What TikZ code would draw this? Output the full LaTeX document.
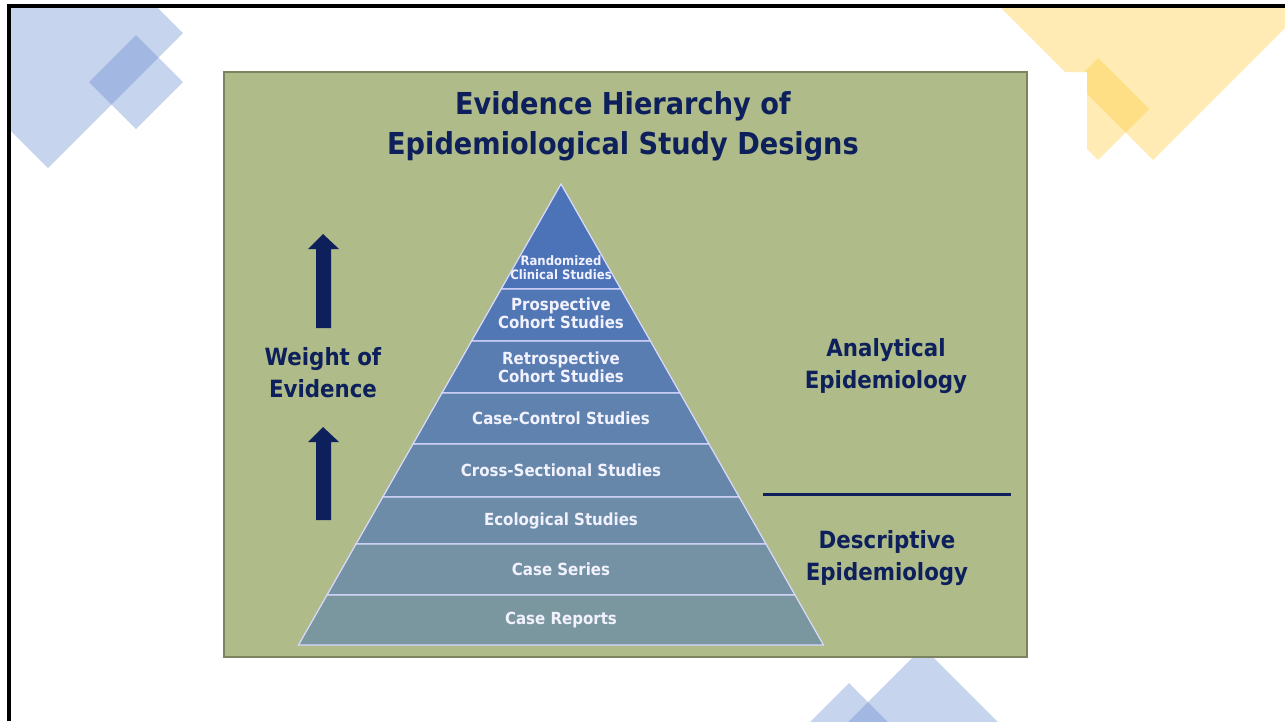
\documentclass[tikz,border=0pt]{standalone}
\usepackage{fontspec}
\setmainfont{DejaVu Sans Condensed}
\usepackage{xcolor}
\definecolor{navy}{HTML}{0D205C}
\definecolor{panelgreen}{HTML}{AFBB88}
\definecolor{blu}{HTML}{5A81CD}
\definecolor{ylw}{HTML}{FFCD41}
\definecolor{pyrtop}{HTML}{4C72B8}
\definecolor{pyrbot}{HTML}{7A97A0}
\colorlet{lay0}{pyrtop}
\colorlet{lay1}{pyrbot!14!pyrtop}
\colorlet{lay2}{pyrbot!28!pyrtop}
\colorlet{lay3}{pyrbot!43!pyrtop}
\colorlet{lay4}{pyrbot!57!pyrtop}
\colorlet{lay5}{pyrbot!71!pyrtop}
\colorlet{lay6}{pyrbot!86!pyrtop}
\colorlet{lay7}{pyrbot}
\tikzset{deco/.style={fill=blu,fill opacity=0.34}}
\tikzset{decoy/.style={fill=ylw,fill opacity=0.4}}
\tikzset{lay/.style={draw=white!85!blue,line width=0.7pt,line join=miter}}
\tikzset{lvl/.style={text=white!95!blue,font=\bfseries\fontsize{9.5}{10.5}\selectfont,align=center,inner sep=0}}
\tikzset{side/.style={text=navy,font=\bfseries\fontsize{13.5}{18.2}\selectfont,align=center,inner sep=0}}

\begin{document}
\begin{tikzpicture}[x=0.02cm,y=-0.02cm]
    \useasboundingbox (0,0) rectangle (1285,721);

    % slide decorations
    \begin{scope}
        \clip (10,7) rectangle (1285,721);
        \fill[deco] (48,-102) -- (183,33) -- (48,168) -- (-87,33) -- cycle;
        \fill[deco] (136,35) -- (183,82) -- (136,129) -- (89,82) -- cycle;
        \fill[deco] (923,647) -- (1043,767) -- (923,887) -- (803,767) -- cycle;
        \fill[deco] (849,683) -- (889,723) -- (849,763) -- (809,723) -- cycle;
    \end{scope}
    \begin{scope}
        \clip (900,7) -- (1285,7) -- (1285,300) -- (1087,300) -- (1087,72) -- (900,72) -- cycle;
        \fill[decoy] (1153,-246) -- (1356,-43) -- (1153,160) -- (947,-46) -- cycle;
        \fill[decoy] (1098,58) -- (1149,109) -- (1098,160) -- (1047,109) -- cycle;
    \end{scope}
    \draw[line width=1.8pt] (9,721) -- (9,6) -- (1285,6);

    % panel
    \filldraw[fill=panelgreen,draw=panelgreen!70!black,line width=0.7pt] (224,72) rectangle (1027,657);
    \node[text=navy,font=\bfseries\fontsize{17.2}{22.8}\selectfont,align=center,inner sep=0] (ttl) at (623,126)
        {Evidence Hierarchy of\\Epidemiological Study Designs};

    % pyramid
    \filldraw[lay,fill=lay0] (561,184) -- (620.8,289) -- (501.2,289) -- cycle;
    \filldraw[lay,fill=lay1] (501.2,289) -- (620.8,289) -- (650.4,341) -- (471.6,341) -- cycle;
    \filldraw[lay,fill=lay2] (471.6,341) -- (650.4,341) -- (680.0,393) -- (442.0,393) -- cycle;
    \filldraw[lay,fill=lay3] (442.0,393) -- (680.0,393) -- (709.0,444) -- (413.0,444) -- cycle;
    \filldraw[lay,fill=lay4] (413.0,444) -- (709.0,444) -- (739.2,497) -- (382.8,497) -- cycle;
    \filldraw[lay,fill=lay5] (382.8,497) -- (739.2,497) -- (766.0,544) -- (356.0,544) -- cycle;
    \filldraw[lay,fill=lay6] (356.0,544) -- (766.0,544) -- (795.0,595) -- (327.0,595) -- cycle;
    \filldraw[lay,fill=lay7] (327.0,595) -- (795.0,595) -- (823.5,645) -- (298.5,645) -- cycle;

    \node[lvl,font=\bfseries\fontsize{7.4}{8}\selectfont] (rcs) at (561,268) {Randomized\\Clinical Studies};
    \node[lvl] (pcs) at (561,313) {Prospective\\Cohort Studies};
    \node[lvl] (rtc) at (561,367) {Retrospective\\Cohort Studies};
    \node[lvl] (ccs) at (561,418) {Case-Control Studies};
    \node[lvl] (xss) at (561,470) {Cross-Sectional Studies};
    \node[lvl] (ecs) at (561,521) {Ecological Studies};
    \node[lvl] (cse) at (561,569) {Case Series};
    \node[lvl] (crp) at (561,620) {Case Reports};

    % weight of evidence
    \fill[navy] (323,234) -- (339,249) -- (331,249) -- (331,328) -- (316,328) -- (316,249) -- (308,249) -- cycle;
    \fill[navy] (323,427) -- (339,442) -- (331,442) -- (331,520) -- (316,520) -- (316,442) -- (308,442) -- cycle;
    \node[side] (woe) at (323,373) {Weight of\\Evidence};

    % right side
    \node[side] (ana) at (886,366) {Analytical\\Epidemiology};
    \coordinate (d1) at (763,494);
    \coordinate (d2) at (1011,494);
    \draw[navy,line width=1.7pt] (d1) -- (d2);
    \node[side] (des) at (887,558) {Descriptive\\Epidemiology};
\end{tikzpicture}
\end{document}
